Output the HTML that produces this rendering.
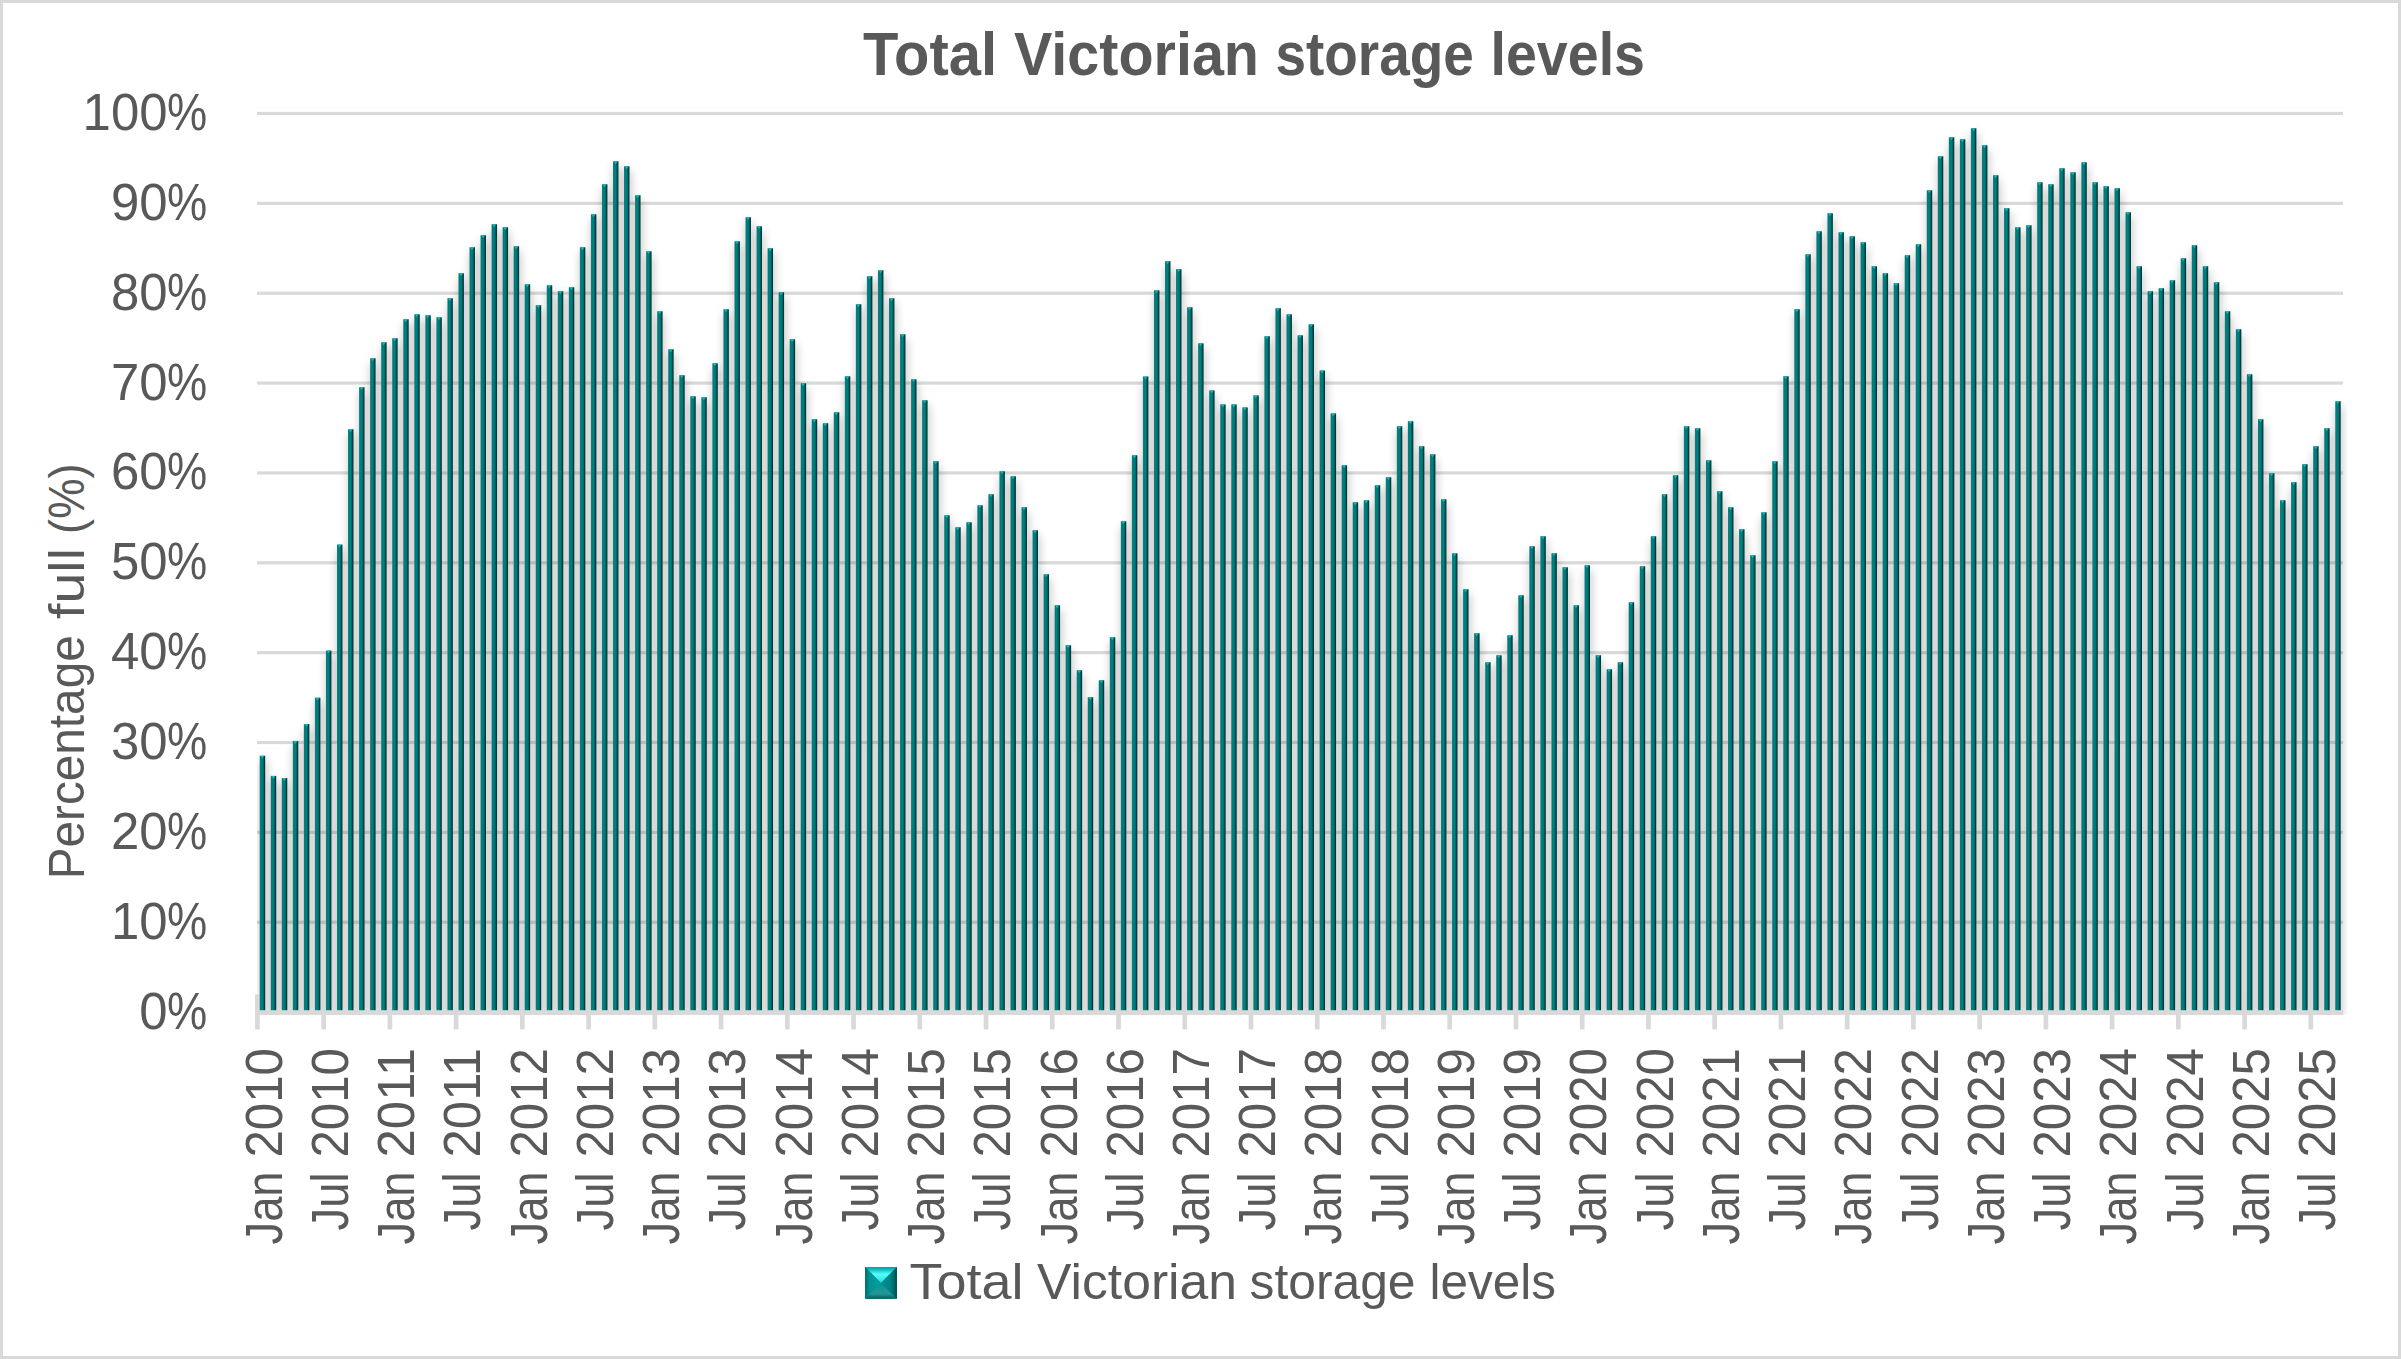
<!DOCTYPE html>
<html lang="en"><head><meta charset="utf-8"><title>Total Victorian storage levels</title>
<style>html,body{margin:0;padding:0;background:#fff}body{width:2401px;height:1359px;overflow:hidden}svg{display:block}text{font-family:"Liberation Sans",sans-serif;fill:#595959}</style></head><body>
<svg width="2401" height="1359" viewBox="0 0 2401 1359">
<defs>
<linearGradient id="bg" x1="0" y1="0" x2="1" y2="0"><stop offset="0" stop-color="#2a8585"/><stop offset="0.14" stop-color="#007a7a"/><stop offset="0.45" stop-color="#008080"/><stop offset="0.68" stop-color="#006666"/><stop offset="0.86" stop-color="#003a3a"/><stop offset="1" stop-color="#0d3c3c"/></linearGradient>
<filter id="sh" x="240" y="100" width="2130" height="930" filterUnits="userSpaceOnUse" color-interpolation-filters="sRGB"><feGaussianBlur in="SourceAlpha" stdDeviation="5"/><feOffset dx="0.5" dy="5"/><feComponentTransfer><feFuncA type="linear" slope="0.30"/></feComponentTransfer></filter>
<clipPath id="pc"><rect x="257" y="100" width="2090" height="915"/></clipPath>
<linearGradient id="lt" x1="0" y1="0" x2="0" y2="1"><stop offset="0" stop-color="#00a0a0"/><stop offset="0.15" stop-color="#10b8b8"/><stop offset="0.45" stop-color="#55ffff"/><stop offset="1" stop-color="#30d6d6"/></linearGradient>
<linearGradient id="lb" x1="0" y1="0" x2="0" y2="1"><stop offset="0" stop-color="#0a9595"/><stop offset="0.7" stop-color="#249696"/><stop offset="0.85" stop-color="#177474"/><stop offset="1" stop-color="#0c5858"/></linearGradient>
<linearGradient id="ll" x1="0" y1="0" x2="1" y2="0"><stop offset="0" stop-color="#006a6a"/><stop offset="0.3" stop-color="#009494"/><stop offset="1" stop-color="#00a2a2"/></linearGradient>
<linearGradient id="lr" x1="0" y1="0" x2="1" y2="0"><stop offset="0" stop-color="#009393"/><stop offset="0.6" stop-color="#008282"/><stop offset="0.85" stop-color="#006464"/><stop offset="1" stop-color="#004646"/></linearGradient>
</defs>
<rect x="0" y="0" width="2401" height="1359" fill="#fff"/>
<rect x="1.5" y="1.5" width="2398" height="1356" fill="none" stroke="#d9d9d9" stroke-width="3"/>
<rect x="257" y="111.90" width="2086" height="3.2" fill="#d9d9d9"/>
<rect x="257" y="201.76" width="2086" height="3.2" fill="#d9d9d9"/>
<rect x="257" y="291.62" width="2086" height="3.2" fill="#d9d9d9"/>
<rect x="257" y="381.48" width="2086" height="3.2" fill="#d9d9d9"/>
<rect x="257" y="471.34" width="2086" height="3.2" fill="#d9d9d9"/>
<rect x="257" y="561.20" width="2086" height="3.2" fill="#d9d9d9"/>
<rect x="257" y="651.06" width="2086" height="3.2" fill="#d9d9d9"/>
<rect x="257" y="740.92" width="2086" height="3.2" fill="#d9d9d9"/>
<rect x="257" y="830.78" width="2086" height="3.2" fill="#d9d9d9"/>
<rect x="257" y="920.64" width="2086" height="3.2" fill="#d9d9d9"/>
<g clip-path="url(#pc)"><path d="M259.70 755.80h5.50V1010.20h-5.50zM270.74 775.90h5.50V1010.20h-5.50zM281.78 778.00h5.50V1010.20h-5.50zM292.82 740.90h5.50V1010.20h-5.50zM303.86 724.00h5.50V1010.20h-5.50zM314.90 697.70h5.50V1010.20h-5.50zM325.94 650.60h5.50V1010.20h-5.50zM336.98 544.60h5.50V1010.20h-5.50zM348.02 429.25h5.50V1010.20h-5.50zM359.06 387.25h5.50V1010.20h-5.50zM370.10 358.25h5.50V1010.20h-5.50zM381.14 342.25h5.50V1010.20h-5.50zM392.18 338.25h5.50V1010.20h-5.50zM403.22 319.25h5.50V1010.20h-5.50zM414.26 314.25h5.50V1010.20h-5.50zM425.30 315.25h5.50V1010.20h-5.50zM436.34 317.25h5.50V1010.20h-5.50zM447.38 298.25h5.50V1010.20h-5.50zM458.42 273.25h5.50V1010.20h-5.50zM469.46 247.25h5.50V1010.20h-5.50zM480.50 235.25h5.50V1010.20h-5.50zM491.54 224.25h5.50V1010.20h-5.50zM502.58 227.25h5.50V1010.20h-5.50zM513.62 246.25h5.50V1010.20h-5.50zM524.66 284.25h5.50V1010.20h-5.50zM535.70 305.25h5.50V1010.20h-5.50zM546.74 285.25h5.50V1010.20h-5.50zM557.78 291.25h5.50V1010.20h-5.50zM568.82 287.25h5.50V1010.20h-5.50zM579.86 247.25h5.50V1010.20h-5.50zM590.90 214.25h5.50V1010.20h-5.50zM601.94 184.25h5.50V1010.20h-5.50zM612.98 161.25h5.50V1010.20h-5.50zM624.02 166.25h5.50V1010.20h-5.50zM635.06 195.25h5.50V1010.20h-5.50zM646.10 251.25h5.50V1010.20h-5.50zM657.14 311.25h5.50V1010.20h-5.50zM668.18 349.25h5.50V1010.20h-5.50zM679.22 375.25h5.50V1010.20h-5.50zM690.26 396.25h5.50V1010.20h-5.50zM701.30 397.25h5.50V1010.20h-5.50zM712.34 363.25h5.50V1010.20h-5.50zM723.38 309.25h5.50V1010.20h-5.50zM734.42 241.25h5.50V1010.20h-5.50zM745.46 217.25h5.50V1010.20h-5.50zM756.50 226.25h5.50V1010.20h-5.50zM767.54 248.25h5.50V1010.20h-5.50zM778.58 292.25h5.50V1010.20h-5.50zM789.62 339.25h5.50V1010.20h-5.50zM800.66 383.25h5.50V1010.20h-5.50zM811.70 419.25h5.50V1010.20h-5.50zM822.74 423.25h5.50V1010.20h-5.50zM833.78 412.25h5.50V1010.20h-5.50zM844.82 376.25h5.50V1010.20h-5.50zM855.86 304.25h5.50V1010.20h-5.50zM866.90 276.25h5.50V1010.20h-5.50zM877.94 270.25h5.50V1010.20h-5.50zM888.98 298.25h5.50V1010.20h-5.50zM900.02 334.25h5.50V1010.20h-5.50zM911.06 379.25h5.50V1010.20h-5.50zM922.10 400.25h5.50V1010.20h-5.50zM933.14 461.25h5.50V1010.20h-5.50zM944.18 515.25h5.50V1010.20h-5.50zM955.22 527.25h5.50V1010.20h-5.50zM966.26 522.25h5.50V1010.20h-5.50zM977.30 505.25h5.50V1010.20h-5.50zM988.34 494.25h5.50V1010.20h-5.50zM999.38 471.25h5.50V1010.20h-5.50zM1010.42 476.25h5.50V1010.20h-5.50zM1021.46 507.25h5.50V1010.20h-5.50zM1032.50 530.25h5.50V1010.20h-5.50zM1043.54 574.25h5.50V1010.20h-5.50zM1054.58 605.25h5.50V1010.20h-5.50zM1065.62 645.25h5.50V1010.20h-5.50zM1076.66 670.25h5.50V1010.20h-5.50zM1087.70 697.25h5.50V1010.20h-5.50zM1098.74 680.25h5.50V1010.20h-5.50zM1109.78 637.25h5.50V1010.20h-5.50zM1120.82 521.25h5.50V1010.20h-5.50zM1131.86 455.25h5.50V1010.20h-5.50zM1142.90 376.50h5.50V1010.20h-5.50zM1153.94 290.30h5.50V1010.20h-5.50zM1164.98 261.20h5.50V1010.20h-5.50zM1176.02 269.20h5.50V1010.20h-5.50zM1187.06 307.30h5.50V1010.20h-5.50zM1198.10 343.30h5.50V1010.20h-5.50zM1209.14 390.40h5.50V1010.20h-5.50zM1220.18 404.40h5.50V1010.20h-5.50zM1231.22 404.40h5.50V1010.20h-5.50zM1242.26 407.40h5.50V1010.20h-5.50zM1253.30 395.40h5.50V1010.20h-5.50zM1264.34 336.20h5.50V1010.20h-5.50zM1275.38 308.20h5.50V1010.20h-5.50zM1286.42 314.30h5.50V1010.20h-5.50zM1297.46 335.30h5.50V1010.20h-5.50zM1308.50 324.30h5.50V1010.20h-5.50zM1319.54 370.50h5.50V1010.20h-5.50zM1330.58 413.40h5.50V1010.20h-5.50zM1341.62 465.25h5.50V1010.20h-5.50zM1352.66 502.25h5.50V1010.20h-5.50zM1363.70 500.25h5.50V1010.20h-5.50zM1374.74 485.25h5.50V1010.20h-5.50zM1385.78 477.25h5.50V1010.20h-5.50zM1396.82 426.25h5.50V1010.20h-5.50zM1407.86 421.25h5.50V1010.20h-5.50zM1418.90 446.25h5.50V1010.20h-5.50zM1429.94 454.25h5.50V1010.20h-5.50zM1440.98 499.25h5.50V1010.20h-5.50zM1452.02 553.25h5.50V1010.20h-5.50zM1463.06 589.25h5.50V1010.20h-5.50zM1474.10 633.25h5.50V1010.20h-5.50zM1485.14 662.25h5.50V1010.20h-5.50zM1496.18 655.25h5.50V1010.20h-5.50zM1507.22 635.25h5.50V1010.20h-5.50zM1518.26 595.25h5.50V1010.20h-5.50zM1529.30 546.25h5.50V1010.20h-5.50zM1540.34 536.25h5.50V1010.20h-5.50zM1551.38 553.25h5.50V1010.20h-5.50zM1562.42 567.25h5.50V1010.20h-5.50zM1573.46 605.25h5.50V1010.20h-5.50zM1584.50 565.25h5.50V1010.20h-5.50zM1595.54 655.25h5.50V1010.20h-5.50zM1606.58 669.25h5.50V1010.20h-5.50zM1617.62 662.25h5.50V1010.20h-5.50zM1628.66 602.25h5.50V1010.20h-5.50zM1639.70 566.25h5.50V1010.20h-5.50zM1650.74 536.25h5.50V1010.20h-5.50zM1661.78 494.25h5.50V1010.20h-5.50zM1672.82 475.25h5.50V1010.20h-5.50zM1683.86 426.25h5.50V1010.20h-5.50zM1694.90 428.25h5.50V1010.20h-5.50zM1705.94 460.25h5.50V1010.20h-5.50zM1716.98 491.25h5.50V1010.20h-5.50zM1728.02 507.25h5.50V1010.20h-5.50zM1739.06 529.25h5.50V1010.20h-5.50zM1750.10 555.25h5.50V1010.20h-5.50zM1761.14 512.25h5.50V1010.20h-5.50zM1772.18 461.25h5.50V1010.20h-5.50zM1783.22 376.25h5.50V1010.20h-5.50zM1794.26 309.25h5.50V1010.20h-5.50zM1805.30 254.25h5.50V1010.20h-5.50zM1816.34 231.25h5.50V1010.20h-5.50zM1827.38 213.25h5.50V1010.20h-5.50zM1838.42 232.25h5.50V1010.20h-5.50zM1849.46 236.25h5.50V1010.20h-5.50zM1860.50 242.25h5.50V1010.20h-5.50zM1871.54 266.25h5.50V1010.20h-5.50zM1882.58 273.25h5.50V1010.20h-5.50zM1893.62 283.25h5.50V1010.20h-5.50zM1904.66 255.25h5.50V1010.20h-5.50zM1915.70 244.25h5.50V1010.20h-5.50zM1926.74 190.25h5.50V1010.20h-5.50zM1937.78 156.25h5.50V1010.20h-5.50zM1948.82 137.25h5.50V1010.20h-5.50zM1959.86 139.25h5.50V1010.20h-5.50zM1970.90 128.25h5.50V1010.20h-5.50zM1981.94 145.25h5.50V1010.20h-5.50zM1992.98 175.25h5.50V1010.20h-5.50zM2004.02 208.25h5.50V1010.20h-5.50zM2015.06 227.25h5.50V1010.20h-5.50zM2026.10 225.25h5.50V1010.20h-5.50zM2037.14 182.25h5.50V1010.20h-5.50zM2048.18 184.25h5.50V1010.20h-5.50zM2059.22 168.25h5.50V1010.20h-5.50zM2070.26 172.25h5.50V1010.20h-5.50zM2081.30 162.25h5.50V1010.20h-5.50zM2092.34 182.25h5.50V1010.20h-5.50zM2103.38 186.25h5.50V1010.20h-5.50zM2114.42 188.25h5.50V1010.20h-5.50zM2125.46 212.25h5.50V1010.20h-5.50zM2136.50 266.25h5.50V1010.20h-5.50zM2147.54 291.25h5.50V1010.20h-5.50zM2158.58 288.25h5.50V1010.20h-5.50zM2169.62 280.25h5.50V1010.20h-5.50zM2180.66 258.25h5.50V1010.20h-5.50zM2191.70 245.25h5.50V1010.20h-5.50zM2202.74 266.25h5.50V1010.20h-5.50zM2213.78 282.25h5.50V1010.20h-5.50zM2224.82 311.25h5.50V1010.20h-5.50zM2235.86 329.25h5.50V1010.20h-5.50zM2246.90 374.25h5.50V1010.20h-5.50zM2257.94 419.25h5.50V1010.20h-5.50zM2268.98 473.20h5.50V1010.20h-5.50zM2280.02 500.20h5.50V1010.20h-5.50zM2291.06 482.20h5.50V1010.20h-5.50zM2302.10 464.20h5.50V1010.20h-5.50zM2313.14 446.20h5.50V1010.20h-5.50zM2324.18 428.20h5.50V1010.20h-5.50zM2335.22 401.20h5.50V1010.20h-5.50z" fill="#000" filter="url(#sh)"/></g>
<rect x="255" y="1010.2" width="2088.2" height="4.7" fill="#d9d9d9"/>
<rect x="255.05" y="994.4" width="4.7" height="35" fill="#d9d9d9"/>
<rect x="321.29" y="994.4" width="4.7" height="35" fill="#d9d9d9"/>
<rect x="387.53" y="994.4" width="4.7" height="35" fill="#d9d9d9"/>
<rect x="453.77" y="994.4" width="4.7" height="35" fill="#d9d9d9"/>
<rect x="520.01" y="994.4" width="4.7" height="35" fill="#d9d9d9"/>
<rect x="586.25" y="994.4" width="4.7" height="35" fill="#d9d9d9"/>
<rect x="652.49" y="994.4" width="4.7" height="35" fill="#d9d9d9"/>
<rect x="718.73" y="994.4" width="4.7" height="35" fill="#d9d9d9"/>
<rect x="784.97" y="994.4" width="4.7" height="35" fill="#d9d9d9"/>
<rect x="851.21" y="994.4" width="4.7" height="35" fill="#d9d9d9"/>
<rect x="917.45" y="994.4" width="4.7" height="35" fill="#d9d9d9"/>
<rect x="983.69" y="994.4" width="4.7" height="35" fill="#d9d9d9"/>
<rect x="1049.93" y="994.4" width="4.7" height="35" fill="#d9d9d9"/>
<rect x="1116.17" y="994.4" width="4.7" height="35" fill="#d9d9d9"/>
<rect x="1182.41" y="994.4" width="4.7" height="35" fill="#d9d9d9"/>
<rect x="1248.65" y="994.4" width="4.7" height="35" fill="#d9d9d9"/>
<rect x="1314.89" y="994.4" width="4.7" height="35" fill="#d9d9d9"/>
<rect x="1381.13" y="994.4" width="4.7" height="35" fill="#d9d9d9"/>
<rect x="1447.37" y="994.4" width="4.7" height="35" fill="#d9d9d9"/>
<rect x="1513.61" y="994.4" width="4.7" height="35" fill="#d9d9d9"/>
<rect x="1579.85" y="994.4" width="4.7" height="35" fill="#d9d9d9"/>
<rect x="1646.09" y="994.4" width="4.7" height="35" fill="#d9d9d9"/>
<rect x="1712.33" y="994.4" width="4.7" height="35" fill="#d9d9d9"/>
<rect x="1778.57" y="994.4" width="4.7" height="35" fill="#d9d9d9"/>
<rect x="1844.81" y="994.4" width="4.7" height="35" fill="#d9d9d9"/>
<rect x="1911.05" y="994.4" width="4.7" height="35" fill="#d9d9d9"/>
<rect x="1977.29" y="994.4" width="4.7" height="35" fill="#d9d9d9"/>
<rect x="2043.53" y="994.4" width="4.7" height="35" fill="#d9d9d9"/>
<rect x="2109.77" y="994.4" width="4.7" height="35" fill="#d9d9d9"/>
<rect x="2176.01" y="994.4" width="4.7" height="35" fill="#d9d9d9"/>
<rect x="2242.25" y="994.4" width="4.7" height="35" fill="#d9d9d9"/>
<rect x="2308.49" y="994.4" width="4.7" height="35" fill="#d9d9d9"/>
<rect x="259.70" y="755.80" width="5.50" height="254.40" fill="url(#bg)"/>
<path d="M260.30 755.80h3.90l-1.95 3z" fill="#19b5b5"/>
<rect x="270.74" y="775.90" width="5.50" height="234.30" fill="url(#bg)"/>
<path d="M271.34 775.90h3.90l-1.95 3z" fill="#19b5b5"/>
<rect x="281.78" y="778.00" width="5.50" height="232.20" fill="url(#bg)"/>
<path d="M282.38 778.00h3.90l-1.95 3z" fill="#19b5b5"/>
<rect x="292.82" y="740.90" width="5.50" height="269.30" fill="url(#bg)"/>
<path d="M293.42 740.90h3.90l-1.95 3z" fill="#19b5b5"/>
<rect x="303.86" y="724.00" width="5.50" height="286.20" fill="url(#bg)"/>
<path d="M304.46 724.00h3.90l-1.95 3z" fill="#19b5b5"/>
<rect x="314.90" y="697.70" width="5.50" height="312.50" fill="url(#bg)"/>
<path d="M315.50 697.70h3.90l-1.95 3z" fill="#19b5b5"/>
<rect x="325.94" y="650.60" width="5.50" height="359.60" fill="url(#bg)"/>
<path d="M326.54 650.60h3.90l-1.95 3z" fill="#19b5b5"/>
<rect x="336.98" y="544.60" width="5.50" height="465.60" fill="url(#bg)"/>
<path d="M337.58 544.60h3.90l-1.95 3z" fill="#19b5b5"/>
<rect x="348.02" y="429.25" width="5.50" height="580.95" fill="url(#bg)"/>
<path d="M348.62 429.25h3.90l-1.95 3z" fill="#19b5b5"/>
<rect x="359.06" y="387.25" width="5.50" height="622.95" fill="url(#bg)"/>
<path d="M359.66 387.25h3.90l-1.95 3z" fill="#19b5b5"/>
<rect x="370.10" y="358.25" width="5.50" height="651.95" fill="url(#bg)"/>
<path d="M370.70 358.25h3.90l-1.95 3z" fill="#19b5b5"/>
<rect x="381.14" y="342.25" width="5.50" height="667.95" fill="url(#bg)"/>
<path d="M381.74 342.25h3.90l-1.95 3z" fill="#19b5b5"/>
<rect x="392.18" y="338.25" width="5.50" height="671.95" fill="url(#bg)"/>
<path d="M392.78 338.25h3.90l-1.95 3z" fill="#19b5b5"/>
<rect x="403.22" y="319.25" width="5.50" height="690.95" fill="url(#bg)"/>
<path d="M403.82 319.25h3.90l-1.95 3z" fill="#19b5b5"/>
<rect x="414.26" y="314.25" width="5.50" height="695.95" fill="url(#bg)"/>
<path d="M414.86 314.25h3.90l-1.95 3z" fill="#19b5b5"/>
<rect x="425.30" y="315.25" width="5.50" height="694.95" fill="url(#bg)"/>
<path d="M425.90 315.25h3.90l-1.95 3z" fill="#19b5b5"/>
<rect x="436.34" y="317.25" width="5.50" height="692.95" fill="url(#bg)"/>
<path d="M436.94 317.25h3.90l-1.95 3z" fill="#19b5b5"/>
<rect x="447.38" y="298.25" width="5.50" height="711.95" fill="url(#bg)"/>
<path d="M447.98 298.25h3.90l-1.95 3z" fill="#19b5b5"/>
<rect x="458.42" y="273.25" width="5.50" height="736.95" fill="url(#bg)"/>
<path d="M459.02 273.25h3.90l-1.95 3z" fill="#19b5b5"/>
<rect x="469.46" y="247.25" width="5.50" height="762.95" fill="url(#bg)"/>
<path d="M470.06 247.25h3.90l-1.95 3z" fill="#19b5b5"/>
<rect x="480.50" y="235.25" width="5.50" height="774.95" fill="url(#bg)"/>
<path d="M481.10 235.25h3.90l-1.95 3z" fill="#19b5b5"/>
<rect x="491.54" y="224.25" width="5.50" height="785.95" fill="url(#bg)"/>
<path d="M492.14 224.25h3.90l-1.95 3z" fill="#19b5b5"/>
<rect x="502.58" y="227.25" width="5.50" height="782.95" fill="url(#bg)"/>
<path d="M503.18 227.25h3.90l-1.95 3z" fill="#19b5b5"/>
<rect x="513.62" y="246.25" width="5.50" height="763.95" fill="url(#bg)"/>
<path d="M514.22 246.25h3.90l-1.95 3z" fill="#19b5b5"/>
<rect x="524.66" y="284.25" width="5.50" height="725.95" fill="url(#bg)"/>
<path d="M525.26 284.25h3.90l-1.95 3z" fill="#19b5b5"/>
<rect x="535.70" y="305.25" width="5.50" height="704.95" fill="url(#bg)"/>
<path d="M536.30 305.25h3.90l-1.95 3z" fill="#19b5b5"/>
<rect x="546.74" y="285.25" width="5.50" height="724.95" fill="url(#bg)"/>
<path d="M547.34 285.25h3.90l-1.95 3z" fill="#19b5b5"/>
<rect x="557.78" y="291.25" width="5.50" height="718.95" fill="url(#bg)"/>
<path d="M558.38 291.25h3.90l-1.95 3z" fill="#19b5b5"/>
<rect x="568.82" y="287.25" width="5.50" height="722.95" fill="url(#bg)"/>
<path d="M569.42 287.25h3.90l-1.95 3z" fill="#19b5b5"/>
<rect x="579.86" y="247.25" width="5.50" height="762.95" fill="url(#bg)"/>
<path d="M580.46 247.25h3.90l-1.95 3z" fill="#19b5b5"/>
<rect x="590.90" y="214.25" width="5.50" height="795.95" fill="url(#bg)"/>
<path d="M591.50 214.25h3.90l-1.95 3z" fill="#19b5b5"/>
<rect x="601.94" y="184.25" width="5.50" height="825.95" fill="url(#bg)"/>
<path d="M602.54 184.25h3.90l-1.95 3z" fill="#19b5b5"/>
<rect x="612.98" y="161.25" width="5.50" height="848.95" fill="url(#bg)"/>
<path d="M613.58 161.25h3.90l-1.95 3z" fill="#19b5b5"/>
<rect x="624.02" y="166.25" width="5.50" height="843.95" fill="url(#bg)"/>
<path d="M624.62 166.25h3.90l-1.95 3z" fill="#19b5b5"/>
<rect x="635.06" y="195.25" width="5.50" height="814.95" fill="url(#bg)"/>
<path d="M635.66 195.25h3.90l-1.95 3z" fill="#19b5b5"/>
<rect x="646.10" y="251.25" width="5.50" height="758.95" fill="url(#bg)"/>
<path d="M646.70 251.25h3.90l-1.95 3z" fill="#19b5b5"/>
<rect x="657.14" y="311.25" width="5.50" height="698.95" fill="url(#bg)"/>
<path d="M657.74 311.25h3.90l-1.95 3z" fill="#19b5b5"/>
<rect x="668.18" y="349.25" width="5.50" height="660.95" fill="url(#bg)"/>
<path d="M668.78 349.25h3.90l-1.95 3z" fill="#19b5b5"/>
<rect x="679.22" y="375.25" width="5.50" height="634.95" fill="url(#bg)"/>
<path d="M679.82 375.25h3.90l-1.95 3z" fill="#19b5b5"/>
<rect x="690.26" y="396.25" width="5.50" height="613.95" fill="url(#bg)"/>
<path d="M690.86 396.25h3.90l-1.95 3z" fill="#19b5b5"/>
<rect x="701.30" y="397.25" width="5.50" height="612.95" fill="url(#bg)"/>
<path d="M701.90 397.25h3.90l-1.95 3z" fill="#19b5b5"/>
<rect x="712.34" y="363.25" width="5.50" height="646.95" fill="url(#bg)"/>
<path d="M712.94 363.25h3.90l-1.95 3z" fill="#19b5b5"/>
<rect x="723.38" y="309.25" width="5.50" height="700.95" fill="url(#bg)"/>
<path d="M723.98 309.25h3.90l-1.95 3z" fill="#19b5b5"/>
<rect x="734.42" y="241.25" width="5.50" height="768.95" fill="url(#bg)"/>
<path d="M735.02 241.25h3.90l-1.95 3z" fill="#19b5b5"/>
<rect x="745.46" y="217.25" width="5.50" height="792.95" fill="url(#bg)"/>
<path d="M746.06 217.25h3.90l-1.95 3z" fill="#19b5b5"/>
<rect x="756.50" y="226.25" width="5.50" height="783.95" fill="url(#bg)"/>
<path d="M757.10 226.25h3.90l-1.95 3z" fill="#19b5b5"/>
<rect x="767.54" y="248.25" width="5.50" height="761.95" fill="url(#bg)"/>
<path d="M768.14 248.25h3.90l-1.95 3z" fill="#19b5b5"/>
<rect x="778.58" y="292.25" width="5.50" height="717.95" fill="url(#bg)"/>
<path d="M779.18 292.25h3.90l-1.95 3z" fill="#19b5b5"/>
<rect x="789.62" y="339.25" width="5.50" height="670.95" fill="url(#bg)"/>
<path d="M790.22 339.25h3.90l-1.95 3z" fill="#19b5b5"/>
<rect x="800.66" y="383.25" width="5.50" height="626.95" fill="url(#bg)"/>
<path d="M801.26 383.25h3.90l-1.95 3z" fill="#19b5b5"/>
<rect x="811.70" y="419.25" width="5.50" height="590.95" fill="url(#bg)"/>
<path d="M812.30 419.25h3.90l-1.95 3z" fill="#19b5b5"/>
<rect x="822.74" y="423.25" width="5.50" height="586.95" fill="url(#bg)"/>
<path d="M823.34 423.25h3.90l-1.95 3z" fill="#19b5b5"/>
<rect x="833.78" y="412.25" width="5.50" height="597.95" fill="url(#bg)"/>
<path d="M834.38 412.25h3.90l-1.95 3z" fill="#19b5b5"/>
<rect x="844.82" y="376.25" width="5.50" height="633.95" fill="url(#bg)"/>
<path d="M845.42 376.25h3.90l-1.95 3z" fill="#19b5b5"/>
<rect x="855.86" y="304.25" width="5.50" height="705.95" fill="url(#bg)"/>
<path d="M856.46 304.25h3.90l-1.95 3z" fill="#19b5b5"/>
<rect x="866.90" y="276.25" width="5.50" height="733.95" fill="url(#bg)"/>
<path d="M867.50 276.25h3.90l-1.95 3z" fill="#19b5b5"/>
<rect x="877.94" y="270.25" width="5.50" height="739.95" fill="url(#bg)"/>
<path d="M878.54 270.25h3.90l-1.95 3z" fill="#19b5b5"/>
<rect x="888.98" y="298.25" width="5.50" height="711.95" fill="url(#bg)"/>
<path d="M889.58 298.25h3.90l-1.95 3z" fill="#19b5b5"/>
<rect x="900.02" y="334.25" width="5.50" height="675.95" fill="url(#bg)"/>
<path d="M900.62 334.25h3.90l-1.95 3z" fill="#19b5b5"/>
<rect x="911.06" y="379.25" width="5.50" height="630.95" fill="url(#bg)"/>
<path d="M911.66 379.25h3.90l-1.95 3z" fill="#19b5b5"/>
<rect x="922.10" y="400.25" width="5.50" height="609.95" fill="url(#bg)"/>
<path d="M922.70 400.25h3.90l-1.95 3z" fill="#19b5b5"/>
<rect x="933.14" y="461.25" width="5.50" height="548.95" fill="url(#bg)"/>
<path d="M933.74 461.25h3.90l-1.95 3z" fill="#19b5b5"/>
<rect x="944.18" y="515.25" width="5.50" height="494.95" fill="url(#bg)"/>
<path d="M944.78 515.25h3.90l-1.95 3z" fill="#19b5b5"/>
<rect x="955.22" y="527.25" width="5.50" height="482.95" fill="url(#bg)"/>
<path d="M955.82 527.25h3.90l-1.95 3z" fill="#19b5b5"/>
<rect x="966.26" y="522.25" width="5.50" height="487.95" fill="url(#bg)"/>
<path d="M966.86 522.25h3.90l-1.95 3z" fill="#19b5b5"/>
<rect x="977.30" y="505.25" width="5.50" height="504.95" fill="url(#bg)"/>
<path d="M977.90 505.25h3.90l-1.95 3z" fill="#19b5b5"/>
<rect x="988.34" y="494.25" width="5.50" height="515.95" fill="url(#bg)"/>
<path d="M988.94 494.25h3.90l-1.95 3z" fill="#19b5b5"/>
<rect x="999.38" y="471.25" width="5.50" height="538.95" fill="url(#bg)"/>
<path d="M999.98 471.25h3.90l-1.95 3z" fill="#19b5b5"/>
<rect x="1010.42" y="476.25" width="5.50" height="533.95" fill="url(#bg)"/>
<path d="M1011.02 476.25h3.90l-1.95 3z" fill="#19b5b5"/>
<rect x="1021.46" y="507.25" width="5.50" height="502.95" fill="url(#bg)"/>
<path d="M1022.06 507.25h3.90l-1.95 3z" fill="#19b5b5"/>
<rect x="1032.50" y="530.25" width="5.50" height="479.95" fill="url(#bg)"/>
<path d="M1033.10 530.25h3.90l-1.95 3z" fill="#19b5b5"/>
<rect x="1043.54" y="574.25" width="5.50" height="435.95" fill="url(#bg)"/>
<path d="M1044.14 574.25h3.90l-1.95 3z" fill="#19b5b5"/>
<rect x="1054.58" y="605.25" width="5.50" height="404.95" fill="url(#bg)"/>
<path d="M1055.18 605.25h3.90l-1.95 3z" fill="#19b5b5"/>
<rect x="1065.62" y="645.25" width="5.50" height="364.95" fill="url(#bg)"/>
<path d="M1066.22 645.25h3.90l-1.95 3z" fill="#19b5b5"/>
<rect x="1076.66" y="670.25" width="5.50" height="339.95" fill="url(#bg)"/>
<path d="M1077.26 670.25h3.90l-1.95 3z" fill="#19b5b5"/>
<rect x="1087.70" y="697.25" width="5.50" height="312.95" fill="url(#bg)"/>
<path d="M1088.30 697.25h3.90l-1.95 3z" fill="#19b5b5"/>
<rect x="1098.74" y="680.25" width="5.50" height="329.95" fill="url(#bg)"/>
<path d="M1099.34 680.25h3.90l-1.95 3z" fill="#19b5b5"/>
<rect x="1109.78" y="637.25" width="5.50" height="372.95" fill="url(#bg)"/>
<path d="M1110.38 637.25h3.90l-1.95 3z" fill="#19b5b5"/>
<rect x="1120.82" y="521.25" width="5.50" height="488.95" fill="url(#bg)"/>
<path d="M1121.42 521.25h3.90l-1.95 3z" fill="#19b5b5"/>
<rect x="1131.86" y="455.25" width="5.50" height="554.95" fill="url(#bg)"/>
<path d="M1132.46 455.25h3.90l-1.95 3z" fill="#19b5b5"/>
<rect x="1142.90" y="376.50" width="5.50" height="633.70" fill="url(#bg)"/>
<path d="M1143.50 376.50h3.90l-1.95 3z" fill="#19b5b5"/>
<rect x="1153.94" y="290.30" width="5.50" height="719.90" fill="url(#bg)"/>
<path d="M1154.54 290.30h3.90l-1.95 3z" fill="#19b5b5"/>
<rect x="1164.98" y="261.20" width="5.50" height="749.00" fill="url(#bg)"/>
<path d="M1165.58 261.20h3.90l-1.95 3z" fill="#19b5b5"/>
<rect x="1176.02" y="269.20" width="5.50" height="741.00" fill="url(#bg)"/>
<path d="M1176.62 269.20h3.90l-1.95 3z" fill="#19b5b5"/>
<rect x="1187.06" y="307.30" width="5.50" height="702.90" fill="url(#bg)"/>
<path d="M1187.66 307.30h3.90l-1.95 3z" fill="#19b5b5"/>
<rect x="1198.10" y="343.30" width="5.50" height="666.90" fill="url(#bg)"/>
<path d="M1198.70 343.30h3.90l-1.95 3z" fill="#19b5b5"/>
<rect x="1209.14" y="390.40" width="5.50" height="619.80" fill="url(#bg)"/>
<path d="M1209.74 390.40h3.90l-1.95 3z" fill="#19b5b5"/>
<rect x="1220.18" y="404.40" width="5.50" height="605.80" fill="url(#bg)"/>
<path d="M1220.78 404.40h3.90l-1.95 3z" fill="#19b5b5"/>
<rect x="1231.22" y="404.40" width="5.50" height="605.80" fill="url(#bg)"/>
<path d="M1231.82 404.40h3.90l-1.95 3z" fill="#19b5b5"/>
<rect x="1242.26" y="407.40" width="5.50" height="602.80" fill="url(#bg)"/>
<path d="M1242.86 407.40h3.90l-1.95 3z" fill="#19b5b5"/>
<rect x="1253.30" y="395.40" width="5.50" height="614.80" fill="url(#bg)"/>
<path d="M1253.90 395.40h3.90l-1.95 3z" fill="#19b5b5"/>
<rect x="1264.34" y="336.20" width="5.50" height="674.00" fill="url(#bg)"/>
<path d="M1264.94 336.20h3.90l-1.95 3z" fill="#19b5b5"/>
<rect x="1275.38" y="308.20" width="5.50" height="702.00" fill="url(#bg)"/>
<path d="M1275.98 308.20h3.90l-1.95 3z" fill="#19b5b5"/>
<rect x="1286.42" y="314.30" width="5.50" height="695.90" fill="url(#bg)"/>
<path d="M1287.02 314.30h3.90l-1.95 3z" fill="#19b5b5"/>
<rect x="1297.46" y="335.30" width="5.50" height="674.90" fill="url(#bg)"/>
<path d="M1298.06 335.30h3.90l-1.95 3z" fill="#19b5b5"/>
<rect x="1308.50" y="324.30" width="5.50" height="685.90" fill="url(#bg)"/>
<path d="M1309.10 324.30h3.90l-1.95 3z" fill="#19b5b5"/>
<rect x="1319.54" y="370.50" width="5.50" height="639.70" fill="url(#bg)"/>
<path d="M1320.14 370.50h3.90l-1.95 3z" fill="#19b5b5"/>
<rect x="1330.58" y="413.40" width="5.50" height="596.80" fill="url(#bg)"/>
<path d="M1331.18 413.40h3.90l-1.95 3z" fill="#19b5b5"/>
<rect x="1341.62" y="465.25" width="5.50" height="544.95" fill="url(#bg)"/>
<path d="M1342.22 465.25h3.90l-1.95 3z" fill="#19b5b5"/>
<rect x="1352.66" y="502.25" width="5.50" height="507.95" fill="url(#bg)"/>
<path d="M1353.26 502.25h3.90l-1.95 3z" fill="#19b5b5"/>
<rect x="1363.70" y="500.25" width="5.50" height="509.95" fill="url(#bg)"/>
<path d="M1364.30 500.25h3.90l-1.95 3z" fill="#19b5b5"/>
<rect x="1374.74" y="485.25" width="5.50" height="524.95" fill="url(#bg)"/>
<path d="M1375.34 485.25h3.90l-1.95 3z" fill="#19b5b5"/>
<rect x="1385.78" y="477.25" width="5.50" height="532.95" fill="url(#bg)"/>
<path d="M1386.38 477.25h3.90l-1.95 3z" fill="#19b5b5"/>
<rect x="1396.82" y="426.25" width="5.50" height="583.95" fill="url(#bg)"/>
<path d="M1397.42 426.25h3.90l-1.95 3z" fill="#19b5b5"/>
<rect x="1407.86" y="421.25" width="5.50" height="588.95" fill="url(#bg)"/>
<path d="M1408.46 421.25h3.90l-1.95 3z" fill="#19b5b5"/>
<rect x="1418.90" y="446.25" width="5.50" height="563.95" fill="url(#bg)"/>
<path d="M1419.50 446.25h3.90l-1.95 3z" fill="#19b5b5"/>
<rect x="1429.94" y="454.25" width="5.50" height="555.95" fill="url(#bg)"/>
<path d="M1430.54 454.25h3.90l-1.95 3z" fill="#19b5b5"/>
<rect x="1440.98" y="499.25" width="5.50" height="510.95" fill="url(#bg)"/>
<path d="M1441.58 499.25h3.90l-1.95 3z" fill="#19b5b5"/>
<rect x="1452.02" y="553.25" width="5.50" height="456.95" fill="url(#bg)"/>
<path d="M1452.62 553.25h3.90l-1.95 3z" fill="#19b5b5"/>
<rect x="1463.06" y="589.25" width="5.50" height="420.95" fill="url(#bg)"/>
<path d="M1463.66 589.25h3.90l-1.95 3z" fill="#19b5b5"/>
<rect x="1474.10" y="633.25" width="5.50" height="376.95" fill="url(#bg)"/>
<path d="M1474.70 633.25h3.90l-1.95 3z" fill="#19b5b5"/>
<rect x="1485.14" y="662.25" width="5.50" height="347.95" fill="url(#bg)"/>
<path d="M1485.74 662.25h3.90l-1.95 3z" fill="#19b5b5"/>
<rect x="1496.18" y="655.25" width="5.50" height="354.95" fill="url(#bg)"/>
<path d="M1496.78 655.25h3.90l-1.95 3z" fill="#19b5b5"/>
<rect x="1507.22" y="635.25" width="5.50" height="374.95" fill="url(#bg)"/>
<path d="M1507.82 635.25h3.90l-1.95 3z" fill="#19b5b5"/>
<rect x="1518.26" y="595.25" width="5.50" height="414.95" fill="url(#bg)"/>
<path d="M1518.86 595.25h3.90l-1.95 3z" fill="#19b5b5"/>
<rect x="1529.30" y="546.25" width="5.50" height="463.95" fill="url(#bg)"/>
<path d="M1529.90 546.25h3.90l-1.95 3z" fill="#19b5b5"/>
<rect x="1540.34" y="536.25" width="5.50" height="473.95" fill="url(#bg)"/>
<path d="M1540.94 536.25h3.90l-1.95 3z" fill="#19b5b5"/>
<rect x="1551.38" y="553.25" width="5.50" height="456.95" fill="url(#bg)"/>
<path d="M1551.98 553.25h3.90l-1.95 3z" fill="#19b5b5"/>
<rect x="1562.42" y="567.25" width="5.50" height="442.95" fill="url(#bg)"/>
<path d="M1563.02 567.25h3.90l-1.95 3z" fill="#19b5b5"/>
<rect x="1573.46" y="605.25" width="5.50" height="404.95" fill="url(#bg)"/>
<path d="M1574.06 605.25h3.90l-1.95 3z" fill="#19b5b5"/>
<rect x="1584.50" y="565.25" width="5.50" height="444.95" fill="url(#bg)"/>
<path d="M1585.10 565.25h3.90l-1.95 3z" fill="#19b5b5"/>
<rect x="1595.54" y="655.25" width="5.50" height="354.95" fill="url(#bg)"/>
<path d="M1596.14 655.25h3.90l-1.95 3z" fill="#19b5b5"/>
<rect x="1606.58" y="669.25" width="5.50" height="340.95" fill="url(#bg)"/>
<path d="M1607.18 669.25h3.90l-1.95 3z" fill="#19b5b5"/>
<rect x="1617.62" y="662.25" width="5.50" height="347.95" fill="url(#bg)"/>
<path d="M1618.22 662.25h3.90l-1.95 3z" fill="#19b5b5"/>
<rect x="1628.66" y="602.25" width="5.50" height="407.95" fill="url(#bg)"/>
<path d="M1629.26 602.25h3.90l-1.95 3z" fill="#19b5b5"/>
<rect x="1639.70" y="566.25" width="5.50" height="443.95" fill="url(#bg)"/>
<path d="M1640.30 566.25h3.90l-1.95 3z" fill="#19b5b5"/>
<rect x="1650.74" y="536.25" width="5.50" height="473.95" fill="url(#bg)"/>
<path d="M1651.34 536.25h3.90l-1.95 3z" fill="#19b5b5"/>
<rect x="1661.78" y="494.25" width="5.50" height="515.95" fill="url(#bg)"/>
<path d="M1662.38 494.25h3.90l-1.95 3z" fill="#19b5b5"/>
<rect x="1672.82" y="475.25" width="5.50" height="534.95" fill="url(#bg)"/>
<path d="M1673.42 475.25h3.90l-1.95 3z" fill="#19b5b5"/>
<rect x="1683.86" y="426.25" width="5.50" height="583.95" fill="url(#bg)"/>
<path d="M1684.46 426.25h3.90l-1.95 3z" fill="#19b5b5"/>
<rect x="1694.90" y="428.25" width="5.50" height="581.95" fill="url(#bg)"/>
<path d="M1695.50 428.25h3.90l-1.95 3z" fill="#19b5b5"/>
<rect x="1705.94" y="460.25" width="5.50" height="549.95" fill="url(#bg)"/>
<path d="M1706.54 460.25h3.90l-1.95 3z" fill="#19b5b5"/>
<rect x="1716.98" y="491.25" width="5.50" height="518.95" fill="url(#bg)"/>
<path d="M1717.58 491.25h3.90l-1.95 3z" fill="#19b5b5"/>
<rect x="1728.02" y="507.25" width="5.50" height="502.95" fill="url(#bg)"/>
<path d="M1728.62 507.25h3.90l-1.95 3z" fill="#19b5b5"/>
<rect x="1739.06" y="529.25" width="5.50" height="480.95" fill="url(#bg)"/>
<path d="M1739.66 529.25h3.90l-1.95 3z" fill="#19b5b5"/>
<rect x="1750.10" y="555.25" width="5.50" height="454.95" fill="url(#bg)"/>
<path d="M1750.70 555.25h3.90l-1.95 3z" fill="#19b5b5"/>
<rect x="1761.14" y="512.25" width="5.50" height="497.95" fill="url(#bg)"/>
<path d="M1761.74 512.25h3.90l-1.95 3z" fill="#19b5b5"/>
<rect x="1772.18" y="461.25" width="5.50" height="548.95" fill="url(#bg)"/>
<path d="M1772.78 461.25h3.90l-1.95 3z" fill="#19b5b5"/>
<rect x="1783.22" y="376.25" width="5.50" height="633.95" fill="url(#bg)"/>
<path d="M1783.82 376.25h3.90l-1.95 3z" fill="#19b5b5"/>
<rect x="1794.26" y="309.25" width="5.50" height="700.95" fill="url(#bg)"/>
<path d="M1794.86 309.25h3.90l-1.95 3z" fill="#19b5b5"/>
<rect x="1805.30" y="254.25" width="5.50" height="755.95" fill="url(#bg)"/>
<path d="M1805.90 254.25h3.90l-1.95 3z" fill="#19b5b5"/>
<rect x="1816.34" y="231.25" width="5.50" height="778.95" fill="url(#bg)"/>
<path d="M1816.94 231.25h3.90l-1.95 3z" fill="#19b5b5"/>
<rect x="1827.38" y="213.25" width="5.50" height="796.95" fill="url(#bg)"/>
<path d="M1827.98 213.25h3.90l-1.95 3z" fill="#19b5b5"/>
<rect x="1838.42" y="232.25" width="5.50" height="777.95" fill="url(#bg)"/>
<path d="M1839.02 232.25h3.90l-1.95 3z" fill="#19b5b5"/>
<rect x="1849.46" y="236.25" width="5.50" height="773.95" fill="url(#bg)"/>
<path d="M1850.06 236.25h3.90l-1.95 3z" fill="#19b5b5"/>
<rect x="1860.50" y="242.25" width="5.50" height="767.95" fill="url(#bg)"/>
<path d="M1861.10 242.25h3.90l-1.95 3z" fill="#19b5b5"/>
<rect x="1871.54" y="266.25" width="5.50" height="743.95" fill="url(#bg)"/>
<path d="M1872.14 266.25h3.90l-1.95 3z" fill="#19b5b5"/>
<rect x="1882.58" y="273.25" width="5.50" height="736.95" fill="url(#bg)"/>
<path d="M1883.18 273.25h3.90l-1.95 3z" fill="#19b5b5"/>
<rect x="1893.62" y="283.25" width="5.50" height="726.95" fill="url(#bg)"/>
<path d="M1894.22 283.25h3.90l-1.95 3z" fill="#19b5b5"/>
<rect x="1904.66" y="255.25" width="5.50" height="754.95" fill="url(#bg)"/>
<path d="M1905.26 255.25h3.90l-1.95 3z" fill="#19b5b5"/>
<rect x="1915.70" y="244.25" width="5.50" height="765.95" fill="url(#bg)"/>
<path d="M1916.30 244.25h3.90l-1.95 3z" fill="#19b5b5"/>
<rect x="1926.74" y="190.25" width="5.50" height="819.95" fill="url(#bg)"/>
<path d="M1927.34 190.25h3.90l-1.95 3z" fill="#19b5b5"/>
<rect x="1937.78" y="156.25" width="5.50" height="853.95" fill="url(#bg)"/>
<path d="M1938.38 156.25h3.90l-1.95 3z" fill="#19b5b5"/>
<rect x="1948.82" y="137.25" width="5.50" height="872.95" fill="url(#bg)"/>
<path d="M1949.42 137.25h3.90l-1.95 3z" fill="#19b5b5"/>
<rect x="1959.86" y="139.25" width="5.50" height="870.95" fill="url(#bg)"/>
<path d="M1960.46 139.25h3.90l-1.95 3z" fill="#19b5b5"/>
<rect x="1970.90" y="128.25" width="5.50" height="881.95" fill="url(#bg)"/>
<path d="M1971.50 128.25h3.90l-1.95 3z" fill="#19b5b5"/>
<rect x="1981.94" y="145.25" width="5.50" height="864.95" fill="url(#bg)"/>
<path d="M1982.54 145.25h3.90l-1.95 3z" fill="#19b5b5"/>
<rect x="1992.98" y="175.25" width="5.50" height="834.95" fill="url(#bg)"/>
<path d="M1993.58 175.25h3.90l-1.95 3z" fill="#19b5b5"/>
<rect x="2004.02" y="208.25" width="5.50" height="801.95" fill="url(#bg)"/>
<path d="M2004.62 208.25h3.90l-1.95 3z" fill="#19b5b5"/>
<rect x="2015.06" y="227.25" width="5.50" height="782.95" fill="url(#bg)"/>
<path d="M2015.66 227.25h3.90l-1.95 3z" fill="#19b5b5"/>
<rect x="2026.10" y="225.25" width="5.50" height="784.95" fill="url(#bg)"/>
<path d="M2026.70 225.25h3.90l-1.95 3z" fill="#19b5b5"/>
<rect x="2037.14" y="182.25" width="5.50" height="827.95" fill="url(#bg)"/>
<path d="M2037.74 182.25h3.90l-1.95 3z" fill="#19b5b5"/>
<rect x="2048.18" y="184.25" width="5.50" height="825.95" fill="url(#bg)"/>
<path d="M2048.78 184.25h3.90l-1.95 3z" fill="#19b5b5"/>
<rect x="2059.22" y="168.25" width="5.50" height="841.95" fill="url(#bg)"/>
<path d="M2059.82 168.25h3.90l-1.95 3z" fill="#19b5b5"/>
<rect x="2070.26" y="172.25" width="5.50" height="837.95" fill="url(#bg)"/>
<path d="M2070.86 172.25h3.90l-1.95 3z" fill="#19b5b5"/>
<rect x="2081.30" y="162.25" width="5.50" height="847.95" fill="url(#bg)"/>
<path d="M2081.90 162.25h3.90l-1.95 3z" fill="#19b5b5"/>
<rect x="2092.34" y="182.25" width="5.50" height="827.95" fill="url(#bg)"/>
<path d="M2092.94 182.25h3.90l-1.95 3z" fill="#19b5b5"/>
<rect x="2103.38" y="186.25" width="5.50" height="823.95" fill="url(#bg)"/>
<path d="M2103.98 186.25h3.90l-1.95 3z" fill="#19b5b5"/>
<rect x="2114.42" y="188.25" width="5.50" height="821.95" fill="url(#bg)"/>
<path d="M2115.02 188.25h3.90l-1.95 3z" fill="#19b5b5"/>
<rect x="2125.46" y="212.25" width="5.50" height="797.95" fill="url(#bg)"/>
<path d="M2126.06 212.25h3.90l-1.95 3z" fill="#19b5b5"/>
<rect x="2136.50" y="266.25" width="5.50" height="743.95" fill="url(#bg)"/>
<path d="M2137.10 266.25h3.90l-1.95 3z" fill="#19b5b5"/>
<rect x="2147.54" y="291.25" width="5.50" height="718.95" fill="url(#bg)"/>
<path d="M2148.14 291.25h3.90l-1.95 3z" fill="#19b5b5"/>
<rect x="2158.58" y="288.25" width="5.50" height="721.95" fill="url(#bg)"/>
<path d="M2159.18 288.25h3.90l-1.95 3z" fill="#19b5b5"/>
<rect x="2169.62" y="280.25" width="5.50" height="729.95" fill="url(#bg)"/>
<path d="M2170.22 280.25h3.90l-1.95 3z" fill="#19b5b5"/>
<rect x="2180.66" y="258.25" width="5.50" height="751.95" fill="url(#bg)"/>
<path d="M2181.26 258.25h3.90l-1.95 3z" fill="#19b5b5"/>
<rect x="2191.70" y="245.25" width="5.50" height="764.95" fill="url(#bg)"/>
<path d="M2192.30 245.25h3.90l-1.95 3z" fill="#19b5b5"/>
<rect x="2202.74" y="266.25" width="5.50" height="743.95" fill="url(#bg)"/>
<path d="M2203.34 266.25h3.90l-1.95 3z" fill="#19b5b5"/>
<rect x="2213.78" y="282.25" width="5.50" height="727.95" fill="url(#bg)"/>
<path d="M2214.38 282.25h3.90l-1.95 3z" fill="#19b5b5"/>
<rect x="2224.82" y="311.25" width="5.50" height="698.95" fill="url(#bg)"/>
<path d="M2225.42 311.25h3.90l-1.95 3z" fill="#19b5b5"/>
<rect x="2235.86" y="329.25" width="5.50" height="680.95" fill="url(#bg)"/>
<path d="M2236.46 329.25h3.90l-1.95 3z" fill="#19b5b5"/>
<rect x="2246.90" y="374.25" width="5.50" height="635.95" fill="url(#bg)"/>
<path d="M2247.50 374.25h3.90l-1.95 3z" fill="#19b5b5"/>
<rect x="2257.94" y="419.25" width="5.50" height="590.95" fill="url(#bg)"/>
<path d="M2258.54 419.25h3.90l-1.95 3z" fill="#19b5b5"/>
<rect x="2268.98" y="473.20" width="5.50" height="537.00" fill="url(#bg)"/>
<path d="M2269.58 473.20h3.90l-1.95 3z" fill="#19b5b5"/>
<rect x="2280.02" y="500.20" width="5.50" height="510.00" fill="url(#bg)"/>
<path d="M2280.62 500.20h3.90l-1.95 3z" fill="#19b5b5"/>
<rect x="2291.06" y="482.20" width="5.50" height="528.00" fill="url(#bg)"/>
<path d="M2291.66 482.20h3.90l-1.95 3z" fill="#19b5b5"/>
<rect x="2302.10" y="464.20" width="5.50" height="546.00" fill="url(#bg)"/>
<path d="M2302.70 464.20h3.90l-1.95 3z" fill="#19b5b5"/>
<rect x="2313.14" y="446.20" width="5.50" height="564.00" fill="url(#bg)"/>
<path d="M2313.74 446.20h3.90l-1.95 3z" fill="#19b5b5"/>
<rect x="2324.18" y="428.20" width="5.50" height="582.00" fill="url(#bg)"/>
<path d="M2324.78 428.20h3.90l-1.95 3z" fill="#19b5b5"/>
<rect x="2335.22" y="401.20" width="5.50" height="609.00" fill="url(#bg)"/>
<path d="M2335.82 401.20h3.90l-1.95 3z" fill="#19b5b5"/>
<text id="title" y="75" font-size="60.5" font-weight="bold"><tspan x="863" textLength="134" lengthAdjust="spacingAndGlyphs">Total</tspan> <tspan x="1014" textLength="245" lengthAdjust="spacingAndGlyphs">Victorian</tspan> <tspan x="1275.4" textLength="198.5" lengthAdjust="spacingAndGlyphs">storage</tspan> <tspan x="1490.5" textLength="154.5" lengthAdjust="spacingAndGlyphs">levels</tspan></text>
<text class="yl" y="130.00" font-size="51"><tspan x="82.60" textLength="84.90" lengthAdjust="spacingAndGlyphs">100</tspan><tspan x="167" textLength="40.2" lengthAdjust="spacingAndGlyphs">%</tspan></text>
<text class="yl" y="219.86" font-size="51"><tspan x="110.90" textLength="56.60" lengthAdjust="spacingAndGlyphs">90</tspan><tspan x="167" textLength="40.2" lengthAdjust="spacingAndGlyphs">%</tspan></text>
<text class="yl" y="309.72" font-size="51"><tspan x="110.90" textLength="56.60" lengthAdjust="spacingAndGlyphs">80</tspan><tspan x="167" textLength="40.2" lengthAdjust="spacingAndGlyphs">%</tspan></text>
<text class="yl" y="399.58" font-size="51"><tspan x="110.90" textLength="56.60" lengthAdjust="spacingAndGlyphs">70</tspan><tspan x="167" textLength="40.2" lengthAdjust="spacingAndGlyphs">%</tspan></text>
<text class="yl" y="489.44" font-size="51"><tspan x="110.90" textLength="56.60" lengthAdjust="spacingAndGlyphs">60</tspan><tspan x="167" textLength="40.2" lengthAdjust="spacingAndGlyphs">%</tspan></text>
<text class="yl" y="579.30" font-size="51"><tspan x="110.90" textLength="56.60" lengthAdjust="spacingAndGlyphs">50</tspan><tspan x="167" textLength="40.2" lengthAdjust="spacingAndGlyphs">%</tspan></text>
<text class="yl" y="669.16" font-size="51"><tspan x="110.90" textLength="56.60" lengthAdjust="spacingAndGlyphs">40</tspan><tspan x="167" textLength="40.2" lengthAdjust="spacingAndGlyphs">%</tspan></text>
<text class="yl" y="759.02" font-size="51"><tspan x="110.90" textLength="56.60" lengthAdjust="spacingAndGlyphs">30</tspan><tspan x="167" textLength="40.2" lengthAdjust="spacingAndGlyphs">%</tspan></text>
<text class="yl" y="848.88" font-size="51"><tspan x="110.90" textLength="56.60" lengthAdjust="spacingAndGlyphs">20</tspan><tspan x="167" textLength="40.2" lengthAdjust="spacingAndGlyphs">%</tspan></text>
<text class="yl" y="938.74" font-size="51"><tspan x="110.90" textLength="56.60" lengthAdjust="spacingAndGlyphs">10</tspan><tspan x="167" textLength="40.2" lengthAdjust="spacingAndGlyphs">%</tspan></text>
<text class="yl" y="1028.60" font-size="51"><tspan x="139.20" textLength="28.30" lengthAdjust="spacingAndGlyphs">0</tspan><tspan x="167" textLength="40.2" lengthAdjust="spacingAndGlyphs">%</tspan></text>
<g transform="translate(83.5 879.3) rotate(-90)"><text id="ytitle" y="0" font-size="50" ><tspan x="0" textLength="244" lengthAdjust="spacingAndGlyphs">Percentage</tspan> <tspan x="260.4" textLength="70.9" lengthAdjust="spacingAndGlyphs">full</tspan> <tspan x="345.4" textLength="70.5" lengthAdjust="spacingAndGlyphs">(%)</tspan></text></g>
<g transform="translate(281.62 1244) rotate(-90)"><text class="xl" y="0" font-size="52"><tspan x="-0.5" textLength="73" lengthAdjust="spacingAndGlyphs">Jan</tspan> <tspan x="86.5" textLength="109.5" lengthAdjust="spacingAndGlyphs">2010</tspan></text></g>
<g transform="translate(347.86 1244) rotate(-90)"><text class="xl" y="0" font-size="52"><tspan x="13.6" textLength="58" lengthAdjust="spacingAndGlyphs">Jul</tspan> <tspan x="86.5" textLength="109.5" lengthAdjust="spacingAndGlyphs">2010</tspan></text></g>
<g transform="translate(414.10 1244) rotate(-90)"><text class="xl" y="0" font-size="52"><tspan x="-0.5" textLength="73" lengthAdjust="spacingAndGlyphs">Jan</tspan> <tspan x="86.5" textLength="109.5" lengthAdjust="spacingAndGlyphs">2011</tspan></text></g>
<g transform="translate(480.34 1244) rotate(-90)"><text class="xl" y="0" font-size="52"><tspan x="13.6" textLength="58" lengthAdjust="spacingAndGlyphs">Jul</tspan> <tspan x="86.5" textLength="109.5" lengthAdjust="spacingAndGlyphs">2011</tspan></text></g>
<g transform="translate(546.58 1244) rotate(-90)"><text class="xl" y="0" font-size="52"><tspan x="-0.5" textLength="73" lengthAdjust="spacingAndGlyphs">Jan</tspan> <tspan x="86.5" textLength="109.5" lengthAdjust="spacingAndGlyphs">2012</tspan></text></g>
<g transform="translate(612.82 1244) rotate(-90)"><text class="xl" y="0" font-size="52"><tspan x="13.6" textLength="58" lengthAdjust="spacingAndGlyphs">Jul</tspan> <tspan x="86.5" textLength="109.5" lengthAdjust="spacingAndGlyphs">2012</tspan></text></g>
<g transform="translate(679.06 1244) rotate(-90)"><text class="xl" y="0" font-size="52"><tspan x="-0.5" textLength="73" lengthAdjust="spacingAndGlyphs">Jan</tspan> <tspan x="86.5" textLength="109.5" lengthAdjust="spacingAndGlyphs">2013</tspan></text></g>
<g transform="translate(745.30 1244) rotate(-90)"><text class="xl" y="0" font-size="52"><tspan x="13.6" textLength="58" lengthAdjust="spacingAndGlyphs">Jul</tspan> <tspan x="86.5" textLength="109.5" lengthAdjust="spacingAndGlyphs">2013</tspan></text></g>
<g transform="translate(811.54 1244) rotate(-90)"><text class="xl" y="0" font-size="52"><tspan x="-0.5" textLength="73" lengthAdjust="spacingAndGlyphs">Jan</tspan> <tspan x="86.5" textLength="109.5" lengthAdjust="spacingAndGlyphs">2014</tspan></text></g>
<g transform="translate(877.78 1244) rotate(-90)"><text class="xl" y="0" font-size="52"><tspan x="13.6" textLength="58" lengthAdjust="spacingAndGlyphs">Jul</tspan> <tspan x="86.5" textLength="109.5" lengthAdjust="spacingAndGlyphs">2014</tspan></text></g>
<g transform="translate(944.02 1244) rotate(-90)"><text class="xl" y="0" font-size="52"><tspan x="-0.5" textLength="73" lengthAdjust="spacingAndGlyphs">Jan</tspan> <tspan x="86.5" textLength="109.5" lengthAdjust="spacingAndGlyphs">2015</tspan></text></g>
<g transform="translate(1010.26 1244) rotate(-90)"><text class="xl" y="0" font-size="52"><tspan x="13.6" textLength="58" lengthAdjust="spacingAndGlyphs">Jul</tspan> <tspan x="86.5" textLength="109.5" lengthAdjust="spacingAndGlyphs">2015</tspan></text></g>
<g transform="translate(1076.50 1244) rotate(-90)"><text class="xl" y="0" font-size="52"><tspan x="-0.5" textLength="73" lengthAdjust="spacingAndGlyphs">Jan</tspan> <tspan x="86.5" textLength="109.5" lengthAdjust="spacingAndGlyphs">2016</tspan></text></g>
<g transform="translate(1142.74 1244) rotate(-90)"><text class="xl" y="0" font-size="52"><tspan x="13.6" textLength="58" lengthAdjust="spacingAndGlyphs">Jul</tspan> <tspan x="86.5" textLength="109.5" lengthAdjust="spacingAndGlyphs">2016</tspan></text></g>
<g transform="translate(1208.98 1244) rotate(-90)"><text class="xl" y="0" font-size="52"><tspan x="-0.5" textLength="73" lengthAdjust="spacingAndGlyphs">Jan</tspan> <tspan x="86.5" textLength="109.5" lengthAdjust="spacingAndGlyphs">2017</tspan></text></g>
<g transform="translate(1275.22 1244) rotate(-90)"><text class="xl" y="0" font-size="52"><tspan x="13.6" textLength="58" lengthAdjust="spacingAndGlyphs">Jul</tspan> <tspan x="86.5" textLength="109.5" lengthAdjust="spacingAndGlyphs">2017</tspan></text></g>
<g transform="translate(1341.46 1244) rotate(-90)"><text class="xl" y="0" font-size="52"><tspan x="-0.5" textLength="73" lengthAdjust="spacingAndGlyphs">Jan</tspan> <tspan x="86.5" textLength="109.5" lengthAdjust="spacingAndGlyphs">2018</tspan></text></g>
<g transform="translate(1407.70 1244) rotate(-90)"><text class="xl" y="0" font-size="52"><tspan x="13.6" textLength="58" lengthAdjust="spacingAndGlyphs">Jul</tspan> <tspan x="86.5" textLength="109.5" lengthAdjust="spacingAndGlyphs">2018</tspan></text></g>
<g transform="translate(1473.94 1244) rotate(-90)"><text class="xl" y="0" font-size="52"><tspan x="-0.5" textLength="73" lengthAdjust="spacingAndGlyphs">Jan</tspan> <tspan x="86.5" textLength="109.5" lengthAdjust="spacingAndGlyphs">2019</tspan></text></g>
<g transform="translate(1540.18 1244) rotate(-90)"><text class="xl" y="0" font-size="52"><tspan x="13.6" textLength="58" lengthAdjust="spacingAndGlyphs">Jul</tspan> <tspan x="86.5" textLength="109.5" lengthAdjust="spacingAndGlyphs">2019</tspan></text></g>
<g transform="translate(1606.42 1244) rotate(-90)"><text class="xl" y="0" font-size="52"><tspan x="-0.5" textLength="73" lengthAdjust="spacingAndGlyphs">Jan</tspan> <tspan x="86.5" textLength="109.5" lengthAdjust="spacingAndGlyphs">2020</tspan></text></g>
<g transform="translate(1672.66 1244) rotate(-90)"><text class="xl" y="0" font-size="52"><tspan x="13.6" textLength="58" lengthAdjust="spacingAndGlyphs">Jul</tspan> <tspan x="86.5" textLength="109.5" lengthAdjust="spacingAndGlyphs">2020</tspan></text></g>
<g transform="translate(1738.90 1244) rotate(-90)"><text class="xl" y="0" font-size="52"><tspan x="-0.5" textLength="73" lengthAdjust="spacingAndGlyphs">Jan</tspan> <tspan x="86.5" textLength="109.5" lengthAdjust="spacingAndGlyphs">2021</tspan></text></g>
<g transform="translate(1805.14 1244) rotate(-90)"><text class="xl" y="0" font-size="52"><tspan x="13.6" textLength="58" lengthAdjust="spacingAndGlyphs">Jul</tspan> <tspan x="86.5" textLength="109.5" lengthAdjust="spacingAndGlyphs">2021</tspan></text></g>
<g transform="translate(1871.38 1244) rotate(-90)"><text class="xl" y="0" font-size="52"><tspan x="-0.5" textLength="73" lengthAdjust="spacingAndGlyphs">Jan</tspan> <tspan x="86.5" textLength="109.5" lengthAdjust="spacingAndGlyphs">2022</tspan></text></g>
<g transform="translate(1937.62 1244) rotate(-90)"><text class="xl" y="0" font-size="52"><tspan x="13.6" textLength="58" lengthAdjust="spacingAndGlyphs">Jul</tspan> <tspan x="86.5" textLength="109.5" lengthAdjust="spacingAndGlyphs">2022</tspan></text></g>
<g transform="translate(2003.86 1244) rotate(-90)"><text class="xl" y="0" font-size="52"><tspan x="-0.5" textLength="73" lengthAdjust="spacingAndGlyphs">Jan</tspan> <tspan x="86.5" textLength="109.5" lengthAdjust="spacingAndGlyphs">2023</tspan></text></g>
<g transform="translate(2070.10 1244) rotate(-90)"><text class="xl" y="0" font-size="52"><tspan x="13.6" textLength="58" lengthAdjust="spacingAndGlyphs">Jul</tspan> <tspan x="86.5" textLength="109.5" lengthAdjust="spacingAndGlyphs">2023</tspan></text></g>
<g transform="translate(2136.34 1244) rotate(-90)"><text class="xl" y="0" font-size="52"><tspan x="-0.5" textLength="73" lengthAdjust="spacingAndGlyphs">Jan</tspan> <tspan x="86.5" textLength="109.5" lengthAdjust="spacingAndGlyphs">2024</tspan></text></g>
<g transform="translate(2202.58 1244) rotate(-90)"><text class="xl" y="0" font-size="52"><tspan x="13.6" textLength="58" lengthAdjust="spacingAndGlyphs">Jul</tspan> <tspan x="86.5" textLength="109.5" lengthAdjust="spacingAndGlyphs">2024</tspan></text></g>
<g transform="translate(2268.82 1244) rotate(-90)"><text class="xl" y="0" font-size="52"><tspan x="-0.5" textLength="73" lengthAdjust="spacingAndGlyphs">Jan</tspan> <tspan x="86.5" textLength="109.5" lengthAdjust="spacingAndGlyphs">2025</tspan></text></g>
<g transform="translate(2335.06 1244) rotate(-90)"><text class="xl" y="0" font-size="52"><tspan x="13.6" textLength="58" lengthAdjust="spacingAndGlyphs">Jul</tspan> <tspan x="86.5" textLength="109.5" lengthAdjust="spacingAndGlyphs">2025</tspan></text></g>
<g id="legend"><rect x="865.1" y="1267" width="31.8" height="31.8" fill="#0a9292"/><path d="M865.1 1267h31.8l-15.9 15.9z" fill="url(#lt)"/><path d="M865.1 1298.8h31.8l-15.9-15.9z" fill="url(#lb)"/><path d="M865.1 1267v31.8l15.9-15.9z" fill="url(#ll)"/><path d="M896.9 1267v31.8l-15.9-15.9z" fill="url(#lr)"/></g>
<text id="legtext" y="1298.6" font-size="49.5" ><tspan x="909.5" textLength="114" lengthAdjust="spacingAndGlyphs">Total</tspan> <tspan x="1037" textLength="200" lengthAdjust="spacingAndGlyphs">Victorian</tspan> <tspan x="1249.5" textLength="166" lengthAdjust="spacingAndGlyphs">storage</tspan> <tspan x="1429.5" textLength="126.5" lengthAdjust="spacingAndGlyphs">levels</tspan></text>
</svg></body></html>
